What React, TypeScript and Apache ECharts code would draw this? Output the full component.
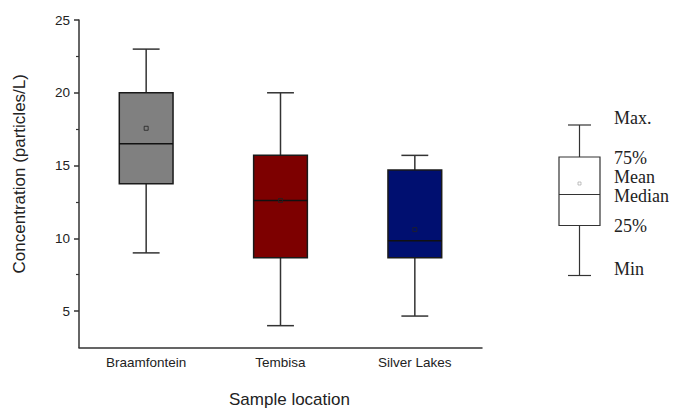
import React, { useEffect, useRef } from "react";
import * as echarts from "echarts";

const categories = ["Braamfontein", "Tembisa", "Silver Lakes"];
const minValues = [9.0, 4.0, 4.66];
const q1Values = [13.75, 8.67, 8.67];
const medianValues = [16.5, 12.6, 9.84];
const q3Values = [20.0, 15.7, 14.7];
const maxValues = [23.0, 20.0, 15.7];
const meanValues = [17.56, 12.6, 10.6];
const boxColors = ["#808080", "#7d0000", "#000f70"];
const yMajorTicks = [5, 10, 15, 20, 25];
const yMinorTicks = [7.5, 12.5, 17.5, 22.5];
const legendLabels = ["Max.", "75%", "Mean", "Median", "25%", "Min"];

export default function App() {
  const ref = useRef<HTMLDivElement>(null);
  useEffect(() => {
    if (!ref.current) return;
    const chart = echarts.init(ref.current, null, { renderer: "svg" });
    const data = categories.map((_, i) => [
      i,
      minValues[i],
      q1Values[i],
      medianValues[i],
      q3Values[i],
      maxValues[i],
      meanValues[i],
    ]);
    const lineStyle = { stroke: "#333", lineWidth: 1.5 };
    const legendX = 579.5;
    const legendYs = [118, 158, 177, 196, 226, 269];
    const legendTexts = legendLabels.map((t, i) => ({ t, y: legendYs[i] }));
    chart.setOption({
      animation: false,
      grid: {
        left: 79,
        top: 20,
        width: 403,
        height: 327.5,
        containLabel: false,
        outerBoundsMode: "none",
      },
      xAxis: {
        type: "category",
        data: categories,
        name: "Sample location",
        nameLocation: "middle",
        nameGap: 43,
        nameTextStyle: { fontFamily: "Liberation Sans", fontSize: 17, color: "#222", padding: [0, 0, 0, 18] },
        axisLine: { lineStyle: { color: "#333", width: 1.5 } },
        axisTick: { alignWithLabel: true, length: 5, lineStyle: { color: "#333", width: 1.5 } },
        axisLabel: { fontFamily: "Liberation Sans", fontSize: 13.5, color: "#222", margin: 8 },
        splitLine: { show: false },
      },
      yAxis: [
        {
          type: "value",
          min: 2.5,
          max: 25,
          name: "Concentration (particles/L)",
          nameLocation: "middle",
          nameGap: 51,
          nameTextStyle: { fontFamily: "Liberation Sans", fontSize: 17, color: "#222", padding: [0, 0, 0, 20] },
          axisLine: { show: true, lineStyle: { color: "#333", width: 1.5 } },
          axisTick: { show: true, length: 5, customValues: yMajorTicks, lineStyle: { color: "#333", width: 1.5 } },
          axisLabel: {
            fontFamily: "Liberation Sans",
            fontSize: 13.5,
            color: "#222",
            margin: 9,
            customValues: yMajorTicks,
          },
          splitLine: { show: false },
        },
        {
          type: "value",
          min: 2.5,
          max: 25,
          position: "left",
          axisLine: { show: false },
          axisTick: { show: true, length: 3, customValues: yMinorTicks, lineStyle: { color: "#333", width: 1.2 } },
          axisLabel: { show: false },
          splitLine: { show: false },
        },
      ],
      series: [
        {
          type: "custom",
          data,
          encode: { x: 0, y: [1, 2, 3, 4, 5, 6] },
          renderItem: (params: any, api: any) => {
            const x = api.value(0);
            const cx = api.coord([x, api.value(1)])[0];
            const yMin = api.coord([x, api.value(1)])[1];
            const yQ1 = api.coord([x, api.value(2)])[1];
            const yMed = api.coord([x, api.value(3)])[1];
            const yQ3 = api.coord([x, api.value(4)])[1];
            const yMax = api.coord([x, api.value(5)])[1];
            const yMean = api.coord([x, api.value(6)])[1];
            const bw = api.size([1, 0])[0] * 0.4;
            const cw = bw / 2;
            const color = boxColors[params.dataIndex];
            return {
              type: "group",
              children: [
                { type: "line", shape: { x1: cx, y1: yMin, x2: cx, y2: yQ1 }, style: lineStyle },
                { type: "line", shape: { x1: cx, y1: yQ3, x2: cx, y2: yMax }, style: lineStyle },
                { type: "line", shape: { x1: cx - cw / 2, y1: yMin, x2: cx + cw / 2, y2: yMin }, style: lineStyle },
                { type: "line", shape: { x1: cx - cw / 2, y1: yMax, x2: cx + cw / 2, y2: yMax }, style: lineStyle },
                {
                  type: "rect",
                  shape: { x: cx - bw / 2, y: yQ3, width: bw, height: yQ1 - yQ3 },
                  style: { fill: color, stroke: "#1a1a1a", lineWidth: 1.5 },
                },
                { type: "line", shape: { x1: cx - bw / 2, y1: yMed, x2: cx + bw / 2, y2: yMed }, style: { stroke: "#111", lineWidth: 1.5 } },
                {
                  type: "rect",
                  shape: { x: cx - 2, y: yMean - 2, width: 4, height: 4 },
                  style: { fill: "none", stroke: "#222", lineWidth: 0.8 },
                },
              ],
            };
          },
        },
      ],
      graphic: [
        { type: "line", shape: { x1: legendX, y1: 125, x2: legendX, y2: 157 }, style: { stroke: "#333", lineWidth: 1.2 } },
        { type: "line", shape: { x1: legendX, y1: 225.5, x2: legendX, y2: 275.5 }, style: { stroke: "#333", lineWidth: 1.2 } },
        { type: "line", shape: { x1: 568, y1: 125, x2: 591, y2: 125 }, style: { stroke: "#333", lineWidth: 1.2 } },
        { type: "line", shape: { x1: 568, y1: 275.5, x2: 591, y2: 275.5 }, style: { stroke: "#333", lineWidth: 1.2 } },
        { type: "rect", shape: { x: 559, y: 157, width: 41, height: 68.5 }, style: { fill: "#fff", stroke: "#333", lineWidth: 1.2 } },
        { type: "line", shape: { x1: 559, y1: 194.5, x2: 600, y2: 194.5 }, style: { stroke: "#333", lineWidth: 1.2 } },
        { type: "rect", shape: { x: 578, y: 182, width: 3, height: 3 }, style: { fill: "none", stroke: "#999", lineWidth: 0.6 } },
        ...legendTexts.map((l) => ({
          type: "text",
          x: 614,
          y: l.y,
          style: {
            text: l.t,
            fontFamily: "Liberation Serif",
            fontSize: 18,
            fill: "#222",
            verticalAlign: "middle",
          },
        })),
      ],
    });
    return () => chart.dispose();
  }, []);
  return (
    <div
      ref={ref}
      style={{ position: "fixed", left: 0, top: 0, width: 673, height: 408, background: "#fff" }}
    />
  );
}
